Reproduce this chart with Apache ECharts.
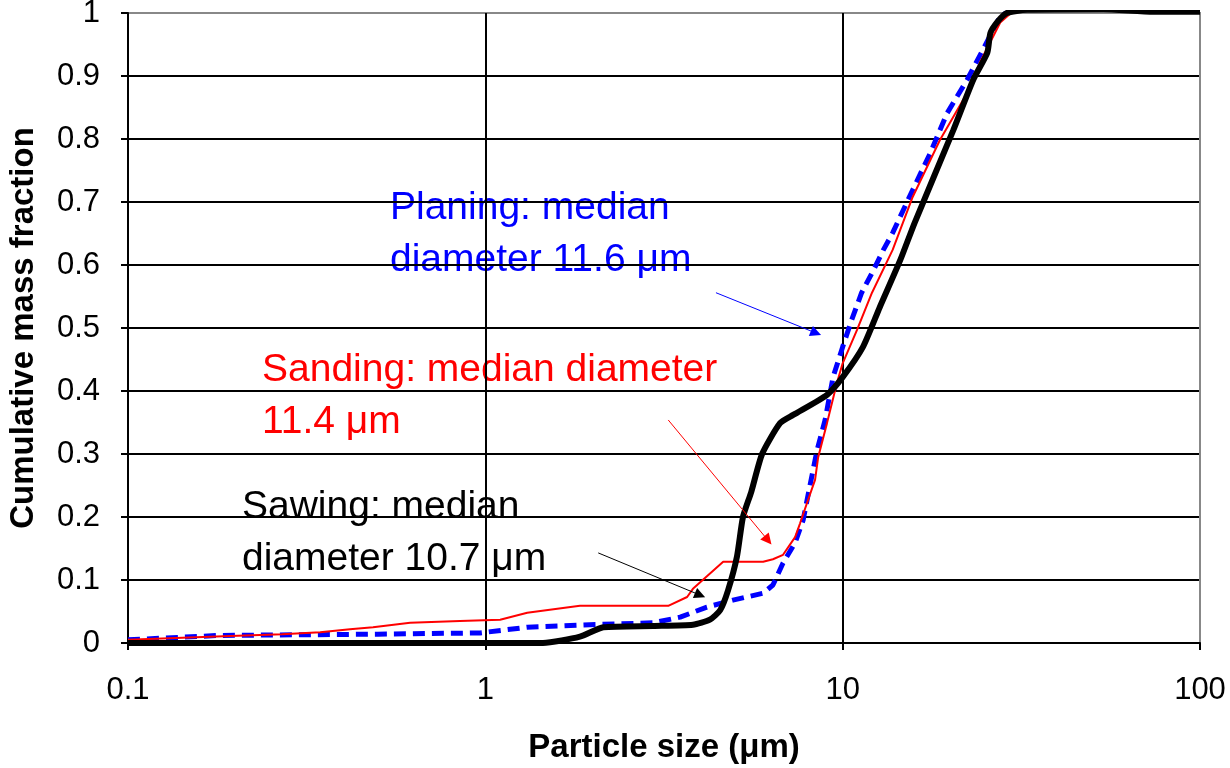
<!DOCTYPE html>
<html>
<head>
<meta charset="utf-8">
<script src="https://cdn.jsdelivr.net/npm/echarts@6/dist/echarts.min.js"></script>
<style>
  html, body { margin: 0; padding: 0; background: #fff; }
  #chart { width: 1230px; height: 768px; }
</style>
</head>
<body>
<div id="chart"></div>
<script>
// particle size (um) and cumulative mass fraction
const sandX = [0.1, 0.193, 0.27, 0.345, 0.418, 0.485, 0.616, 0.849, 1.1, 1.31, 1.84, 3.25, 3.67, 3.81, 4.63, 5.99, 6.38, 6.81, 7.36, 7.6, 8.0, 8.37, 8.54, 9.04, 9.64, 10.0, 10.97, 12.08, 13.8, 15.7, 18.7, 22.3, 24.2, 27.6, 30, 50, 100];
const sandY = [0.005, 0.011, 0.014, 0.017, 0.022, 0.025, 0.032, 0.035, 0.037, 0.048, 0.059, 0.059, 0.073, 0.086, 0.129, 0.129, 0.133, 0.14, 0.168, 0.19, 0.227, 0.259, 0.295, 0.349, 0.413, 0.444, 0.497, 0.556, 0.624, 0.708, 0.798, 0.873, 0.921, 0.985, 1.003, 1.005, 1.002];

const planeX = [0.1, 0.18, 0.5, 0.967, 1.31, 1.96, 2.95, 3.51, 4.17, 4.93, 5.99, 6.38, 6.81, 7.36, 7.75, 8.1, 8.48, 8.93, 9.4, 10.0, 10.6, 11.3, 12.2, 13.0, 13.8, 15.7, 17.6, 19.6, 22.3, 24.5, 27.6, 30, 50, 100];
const planeY = [0.005, 0.012, 0.014, 0.016, 0.025, 0.029, 0.032, 0.041, 0.057, 0.068, 0.079, 0.092, 0.127, 0.159, 0.195, 0.25, 0.306, 0.354, 0.422, 0.47, 0.513, 0.556, 0.592, 0.624, 0.651, 0.719, 0.778, 0.841, 0.894, 0.938, 0.995, 1.006, 1.007, 1.004];

const sawX = [0.1, 1.45, 1.84, 2.14, 2.95, 3.81, 4.25, 4.54, 4.78, 5.06, 5.26, 5.55, 5.95, 6.68, 7.27, 9.04, 10.0, 11.4, 12.7, 14.5, 15.9, 20.4, 23.2, 25.4, 25.9, 27.1, 28.8, 32.8, 53.6, 74, 100];
const sawY = [0.0, 0.0, 0.01, 0.025, 0.027, 0.029, 0.037, 0.052, 0.084, 0.137, 0.2, 0.24, 0.3, 0.349, 0.362, 0.394, 0.422, 0.47, 0.533, 0.608, 0.667, 0.814, 0.894, 0.937, 0.968, 0.986, 1.0, 1.005, 1.006, 1.002, 1.002];

// annotation arrows: [from, to] in data coordinates
const planeArrow = [[4.42, 0.556], [8.42, 0.492]];
const sandArrow = [[3.25, 0.354], [6.18, 0.163]];
const sawArrow = [[2.07, 0.143], [3.99, 0.076]];

const planeLabel = ['Planing: median', 'diameter 11.6 μm'];
const sandLabel = ['Sanding: median diameter', '11.4 μm'];
const sawLabel = ['Sawing: median', 'diameter 10.7 μm'];

const FONT = '"Liberation Sans", Arial, sans-serif';
const pairs = (xs, ys) => xs.map((x, i) => [x, ys[i]]);

const arrow = (pts, color) => ({
  silent: true,
  symbol: ['none', 'triangle'],
  symbolSize: 11,
  label: { show: false },
  lineStyle: { color, width: 1, type: 'solid' },
  emphasis: { disabled: true },
  data: [[{ coord: pts[0] }, { coord: pts[1] }]],
});

const note = (lines, x, y, color) =>
  lines.map((t, i) => ({
    type: 'text',
    x,
    y: y + i * 52,
    silent: true,
    style: {
      text: t,
      fill: color,
      fontSize: 39,
      fontFamily: FONT,
      verticalAlign: 'middle',
      align: 'left',
    },
  }));

const chart = echarts.init(document.getElementById('chart'));
chart.setOption({
  animation: false,
  grid: {
    left: 128,
    right: 30,
    top: 13,
    bottom: 125,
    outerBoundsMode: 'none',
    show: true,
    borderColor: '#888',
    borderWidth: 2,
  },
  xAxis: {
    type: 'log',
    logBase: 10,
    min: 0.1,
    max: 100,
    name: 'Particle size (μm)',
    nameLocation: 'middle',
    nameGap: 88,
    nameTextStyle: { fontSize: 33, fontWeight: 'bold', color: '#000', fontFamily: FONT },
    axisLine: { lineStyle: { color: '#000', width: 2 } },
    axisTick: { show: true, length: 7, lineStyle: { color: '#000', width: 2 } },
    axisLabel: { fontSize: 31, color: '#000', fontFamily: FONT, margin: 32 },
    splitLine: { show: true, lineStyle: { color: ['#000', '#000', '#000', '#888'], width: 2 } },
    minorTick: { show: false },
  },
  yAxis: {
    type: 'value',
    min: 0,
    max: 1,
    interval: 0.1,
    name: 'Cumulative mass fraction',
    nameLocation: 'middle',
    nameGap: 88,
    nameTextStyle: { fontSize: 33, fontWeight: 'bold', color: '#000', fontFamily: FONT },
    axisLine: { show: true, lineStyle: { color: '#000', width: 2 } },
    axisTick: { show: true, length: 7, lineStyle: { color: '#000', width: 2 } },
    axisLabel: { fontSize: 31, color: '#000', fontFamily: FONT, margin: 28 },
    splitLine: {
      show: true,
      lineStyle: {
        color: ['#000', '#000', '#000', '#000', '#000', '#000', '#000', '#000', '#000', '#000', '#888'],
        width: 2,
      },
    },
  },
  series: [
    {
      name: 'Planing',
      type: 'line',
      data: pairs(planeX, planeY),
      showSymbol: false,
      lineStyle: { color: '#0000ff', width: 5, type: [12, 7] },
      markLine: arrow(planeArrow, '#0000ff'),
      z: 2,
    },
    {
      name: 'Sanding',
      type: 'line',
      data: pairs(sandX, sandY),
      showSymbol: false,
      lineStyle: { color: '#ff0000', width: 2 },
      markLine: arrow(sandArrow, '#ff0000'),
      z: 3,
    },
    {
      name: 'Sawing',
      type: 'line',
      data: pairs(sawX, sawY),
      showSymbol: false,
      smooth: 0.2,
      lineStyle: { color: '#000', width: 6 },
      markLine: arrow(sawArrow, '#000'),
      z: 4,
    },
  ],
  graphic: [
    ...note(planeLabel, 390, 208, '#0000ff'),
    ...note(sandLabel, 262, 370, '#ff0000'),
    ...note(sawLabel, 242, 507, '#000'),
  ],
});
</script>
</body>
</html>
